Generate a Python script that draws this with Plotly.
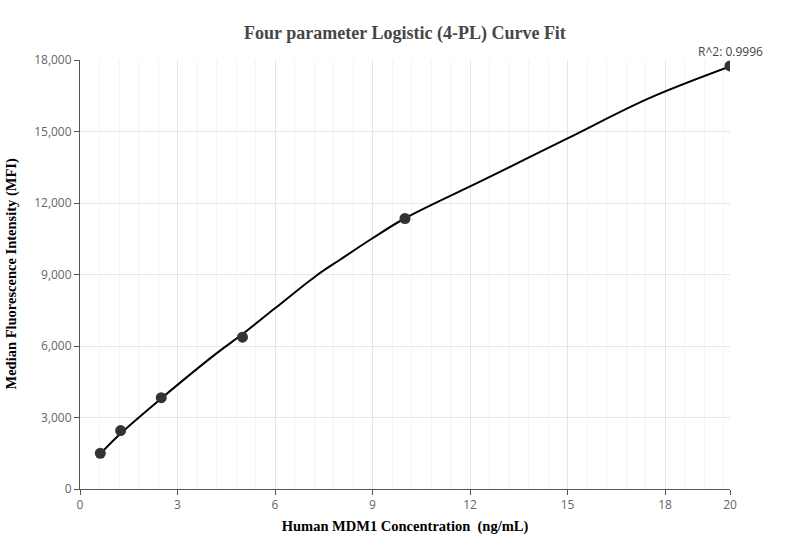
import plotly.graph_objects as go

# Standards (measured points)
conc = [0.625, 1.25, 2.5, 5, 10, 20]
mfi = [1500, 2450, 3830, 6370, 11350, 17750]

# Fitted curve
curve_x = [0.625, 1.25, 2.5, 4.2, 5, 6, 7.3, 8, 9, 10, 12.4, 15, 17.5, 20]
curve_y = [1480, 2330, 3800, 5690, 6500, 7580, 8980, 9620, 10520, 11360, 12960, 14710, 16390, 17730]

x_ticks = [0, 3, 6, 9, 12, 15, 18, 20]
y_ticks = [0, 3000, 6000, 9000, 12000, 15000, 18000]
r2_text = "R^2: 0.9996"

fig = go.Figure()
fig.add_trace(go.Scatter(x=curve_x, y=curve_y, mode="lines",
                         line=dict(color="#000000", width=2, shape="spline", smoothing=1.0),
                         hoverinfo="skip", showlegend=False))
fig.add_trace(go.Scatter(x=conc, y=mfi, mode="markers",
                         marker=dict(color="#333333", size=11),
                         showlegend=False))
fig.add_annotation(x=conc[-1], y=mfi[-1], text=r2_text, showarrow=False,
                   yshift=14, font=dict(family="Open Sans, sans-serif", size=12, color="#444444"))

axis_font = dict(family="Open Sans, sans-serif", size=12, color="#666666")
title_font = dict(family="Liberation Serif, serif", size=14.5, color="#000000")

# y-axis title placed as a rotated annotation for precise positioning
fig.add_annotation(xref="paper", yref="paper", x=(11 - 80) / 650, y=0.5,
                   text="<b>Median Fluorescence Intensity (MFI)</b>", textangle=-90,
                   showarrow=False, xanchor="center", yanchor="middle", font=title_font)

fig.update_layout(
    width=811, height=560,
    margin=dict(l=80, r=81, t=60, b=71, autoexpand=False),
    paper_bgcolor="white", plot_bgcolor="white",
    title=dict(text="<b>Four parameter Logistic (4-PL) Curve Fit</b>", x=405 / 811, xanchor="center",
               y=1 - 33 / 560, yanchor="middle",
               font=dict(family="Liberation Serif, serif", size=18, color="#464646")),
    xaxis=dict(range=[0, 20], tickvals=x_ticks, ticktext=[str(v) for v in x_ticks],
               showline=True, linecolor="#555555", linewidth=1,
               ticks="outside", ticklen=5, tickcolor="#555555",
               showgrid=True, gridcolor="#e3e6ec", gridwidth=1, zeroline=False,
               minor=dict(dtick=0.6, tick0=0, showgrid=True, gridcolor="#f2f3f6", ticks=""),
               tickfont=axis_font,
               title=dict(text="<b>Human MDM1 Concentration  (ng/mL)</b>", font=title_font, standoff=8)),
    yaxis=dict(range=[0, 18000], tickvals=y_ticks, tickformat=",",
               showline=True, linecolor="#555555", linewidth=1,
               ticks="outside", ticklen=5, tickcolor="#555555",
               showgrid=True, gridcolor="#e3e6ec", gridwidth=1, zeroline=False,
               tickfont=axis_font),
)

fig.write_html("out.html", config={"displayModeBar": False},
               post_script="document.body.style.margin='0';")
